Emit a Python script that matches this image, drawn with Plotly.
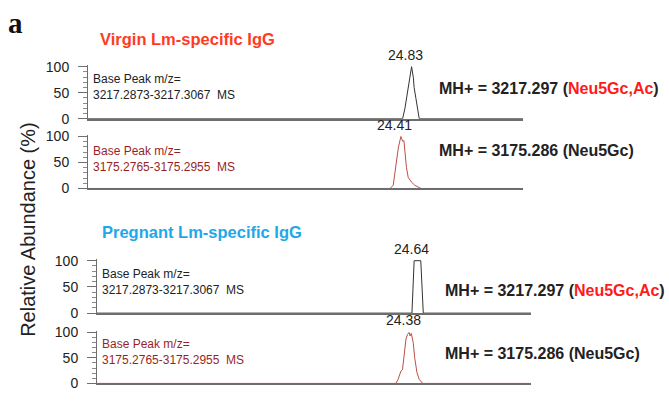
import plotly.graph_objects as go

W, H = 669, 402

# Extracted-ion chromatograms: retention time (min) and relative abundance (%)
virgin_ac_rt = [12.14, 24.48, 24.57, 24.64, 24.74, 24.83, 24.90, 24.93, 25.00, 25.06, 25.13, 29.20]
virgin_ac_ab = [0, 0, 20, 42, 73, 100, 79, 60, 39, 17, 0, 0]

virgin_gc_rt = [12.14, 23.98, 24.11, 24.18, 24.25, 24.31, 24.41, 24.48, 24.53, 24.58, 24.63,
                24.70, 24.83, 24.96, 25.09, 25.20, 29.20]
virgin_gc_ab = [0, 0, 6, 28, 59, 78, 100, 91, 92, 65, 40, 21, 12, 6, 2, 0, 0]

preg_ac_rt = [14.47, 24.47, 24.54, 24.64, 24.75, 24.83, 28.25]
preg_ac_ab = [0, 0, 100, 100, 100, 0, 0]

preg_gc_rt = [14.47, 23.96, 24.03, 24.12, 24.17, 24.22, 24.28, 24.33, 24.38, 24.41, 24.45,
              24.51, 24.56, 24.63, 24.70, 24.81, 28.25]
preg_gc_ab = [0, 0, 8, 24, 27, 55, 87, 96, 100, 93, 98, 80, 49, 21, 8, 0, 0]

peak_rt = [24.83, 24.41, 24.64, 24.38]
mz_ranges = ["3217.2873-3217.3067", "3175.2765-3175.2955",
             "3217.2873-3217.3067", "3175.2765-3175.2955"]
mh_values = [3217.297, 3175.286, 3217.297, 3175.286]
glycan_labels = ["Neu5Gc,Ac", "Neu5Gc", "Neu5Gc,Ac", "Neu5Gc"]
group_titles = ["Virgin Lm-specific IgG", "Pregnant Lm-specific IgG"]
y_ticks = [0, 50, 100]

FONT = "Liberation Sans, Arial, Helvetica, sans-serif"
INK = "#222222"
AXIS = "#6e6e6e"
RED_TRACE = "#b9504a"
RED_TEXT = "#9a1f1f"
RED_GLYCAN = "#ff1a1a"


def px_x(p):
    return p / W


def px_y(p):
    return 1 - p / H


# panel geometry (pixels) and styling
panels = [
    dict(rt=virgin_ac_rt, ab=virgin_ac_ab, x0=88, x1=523, top=60.4, base=116, xr=[12.14, 29.20],
         line="#333333", txt=INK, glycan=RED_GLYCAN, bp_y=83.5, mh_x=437, mh_y=85),
    dict(rt=virgin_gc_rt, ab=virgin_gc_ab, x0=88, x1=523, top=132.9, base=188.5, xr=[12.14, 29.20],
         line=RED_TRACE, txt=RED_TEXT, glycan=INK, bp_y=157.5, mh_x=437, mh_y=149.5),
    dict(rt=preg_ac_rt, ab=preg_ac_ab, x0=97, x1=531, top=261.9, base=318, xr=[14.47, 28.25],
         line="#333333", txt=INK, glycan=RED_GLYCAN, bp_y=285.5, mh_x=443, mh_y=295),
    dict(rt=preg_gc_rt, ab=preg_gc_ab, x0=97, x1=531, top=336.4, base=391, xr=[14.47, 28.25],
         line=RED_TRACE, txt=RED_TEXT, glycan=INK, bp_y=358, mh_x=443, mh_y=360),
]

fig = go.Figure()
annotations = []
layout_axes = {}

for i, p in enumerate(panels):
    n = i + 1
    xa = "x" if n == 1 else f"x{n}"
    ya = "y" if n == 1 else f"y{n}"
    fig.add_trace(go.Scatter(
        x=p["rt"], y=p["ab"], mode="lines", xaxis=xa, yaxis=ya,
        line=dict(color=p["line"], width=1), showlegend=False, hoverinfo="skip",
    ))
    layout_axes["xaxis" if n == 1 else f"xaxis{n}"] = dict(
        domain=[px_x(p["x0"]), px_x(p["x1"])], range=p["xr"], anchor=ya,
        showline=True, linecolor=AXIS, linewidth=2, showgrid=False, zeroline=False,
        showticklabels=False, ticks="",
    )
    layout_axes["yaxis" if n == 1 else f"yaxis{n}"] = dict(
        domain=[px_y(p["base"]), px_y(p["top"])], range=[0, 103], anchor=xa,
        showline=True, linecolor=AXIS, linewidth=1, showgrid=False, zeroline=False,
        tickmode="array", tickvals=y_ticks, ticks="outside", ticklen=9, tickwidth=1,
        tickcolor=AXIS, tickfont=dict(family=FONT, size=14, color=INK), ticklabelstandoff=6,
        minor=dict(dtick=10, tick0=0, ticks="outside", ticklen=4, tickcolor="#8a8a8a", tickwidth=1),
    )
    # retention-time label over the peak apex
    apex = p["ab"][p["rt"].index(peak_rt[i])]
    annotations.append(dict(
        x=peak_rt[i], y=apex, xref=xa, yref=ya, text=f"{peak_rt[i]:.2f}",
        showarrow=False, yanchor="bottom", xanchor="center", xshift=-6, yshift=2,
        font=dict(family=FONT, size=14, color=INK),
    ))
    # extraction window
    annotations.append(dict(
        x=px_x(p["x0"] + 3), y=px_y(p["bp_y"]), xref="paper", yref="paper",
        text=f"Base Peak m/z=<br>{mz_ranges[i]} \u00a0MS", align="left",
        showarrow=False, xanchor="left", yanchor="middle",
        font=dict(family=FONT, size=12, color=p["txt"]),
    ))
    # precursor mass and glycan
    annotations.append(dict(
        x=px_x(p["mh_x"]), y=px_y(p["mh_y"]), xref="paper", yref="paper",
        text=(f"<b>MH+ = {mh_values[i]:.3f} (<span style='color:{p['glycan']}'>"
              f"{glycan_labels[i]}</span>)</b>"),
        showarrow=False, xanchor="left", yanchor="middle",
        font=dict(family=FONT, size=16, color=INK),
    ))

# group titles
annotations.append(dict(
    x=px_x(187.5), y=px_y(33.3), xref="paper", yref="paper", text=f"<b>{group_titles[0]}</b>",
    showarrow=False, xanchor="center", yanchor="middle",
    font=dict(family=FONT, size=16.5, color="#ff3b1f"),
))
annotations.append(dict(
    x=px_x(201.5), y=px_y(233.3), xref="paper", yref="paper", text=f"<b>{group_titles[1]}</b>",
    showarrow=False, xanchor="center", yanchor="middle",
    font=dict(family=FONT, size=16.5, color="#1fa8e8"),
))
# panel letter
annotations.append(dict(
    x=px_x(15), y=px_y(17), xref="paper", yref="paper", text="<b>a</b>",
    showarrow=False, xanchor="center", yanchor="middle",
    font=dict(family="Liberation Serif, Times New Roman, serif", size=29, color="#111111"),
))
# shared y-axis title
annotations.append(dict(
    x=px_x(28), y=px_y(231.5), xref="paper", yref="paper", text="Relative Abundance (%)",
    showarrow=False, xanchor="center", yanchor="middle", textangle=-90,
    font=dict(family=FONT, size=20, color=INK),
))

fig.update_layout(
    width=W, height=H, autosize=False,
    margin=dict(l=0, r=0, t=0, b=0),
    paper_bgcolor="white", plot_bgcolor="white",
    annotations=annotations, showlegend=False,
    **layout_axes,
)

fig.write_html("out.html")
